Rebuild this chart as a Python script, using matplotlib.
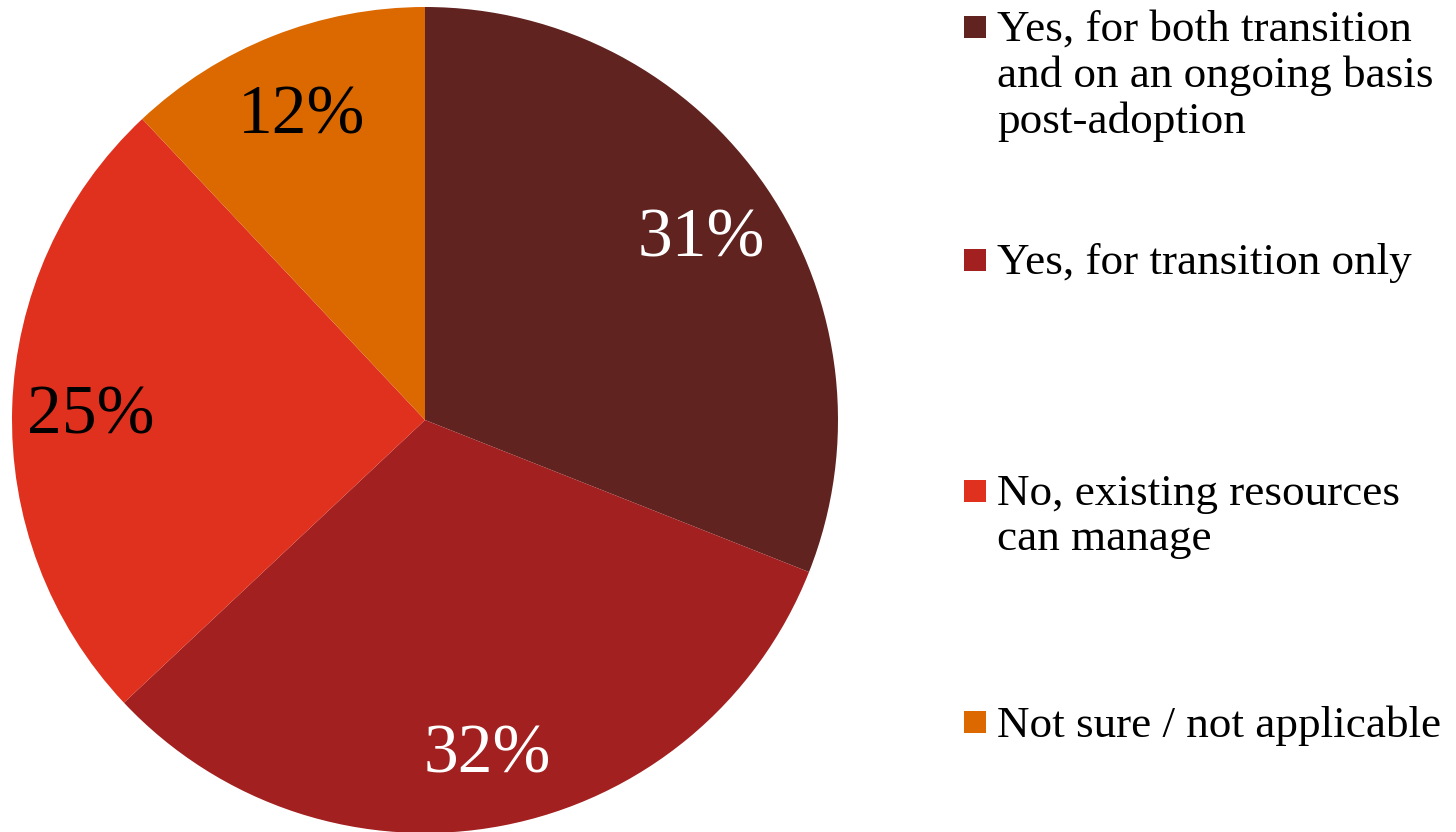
import matplotlib
matplotlib.use("Agg")
import matplotlib.pyplot as plt
from matplotlib.patches import Rectangle

categories = [
    "Yes, for both transition\nand on an ongoing basis\npost-adoption",
    "Yes, for transition only",
    "No, existing resources\ncan manage",
    "Not sure / not applicable",
]
values = [31, 32, 25, 12]
colors = ["#602320", "#A32020", "#E0301E", "#DC6900"]
label_colors = ["white", "white", "black", "black"]

W, H = 1456, 832
fig = plt.figure(figsize=(W / 100, H / 100), dpi=100)
fig.patch.set_facecolor("white")

serif = ["Liberation Serif", "DejaVu Serif"]

# pie axes: centre (425, 420) px from top-left, radius 413 px
cx, cy, r = 425, 420, 413
ax = fig.add_axes([(cx - r) / W, (H - cy - r) / H, 2 * r / W, 2 * r / H])
wedges, texts = ax.pie(
    values,
    colors=colors,
    startangle=90,
    counterclock=False,
    radius=1.0,
    labels=[f"{v}%" for v in values],
    labeldistance=0.81,
    wedgeprops=dict(linewidth=0),
    textprops=dict(fontsize=50, family=serif),
)
for t, c in zip(texts, label_colors):
    t.set_color(c)
    t.set_ha("center")
    t.set_va("center_baseline")
ax.set_xlim(-1, 1)
ax.set_ylim(-1, 1)
ax.set_aspect("equal")
ax.axis("off")

# legend drawn as squares plus wrapped labels
sq_x, sq_size = 964, 22
text_x = 997
square_centres = [27, 260, 491, 722]
for label, col, yc in zip(categories, colors, square_centres):
    fig.patches.append(Rectangle((sq_x / W, (H - yc - sq_size / 2) / H),
                                 sq_size / W, sq_size / H,
                                 transform=fig.transFigure, facecolor=col,
                                 edgecolor="none"))
    fig.text(text_x / W, (H - (yc - 17)) / H, label, ha="left", va="top",
             fontsize=32.5, family=serif, color="black", linespacing=1.17)

fig.savefig("out.png", dpi=100, facecolor="white")
